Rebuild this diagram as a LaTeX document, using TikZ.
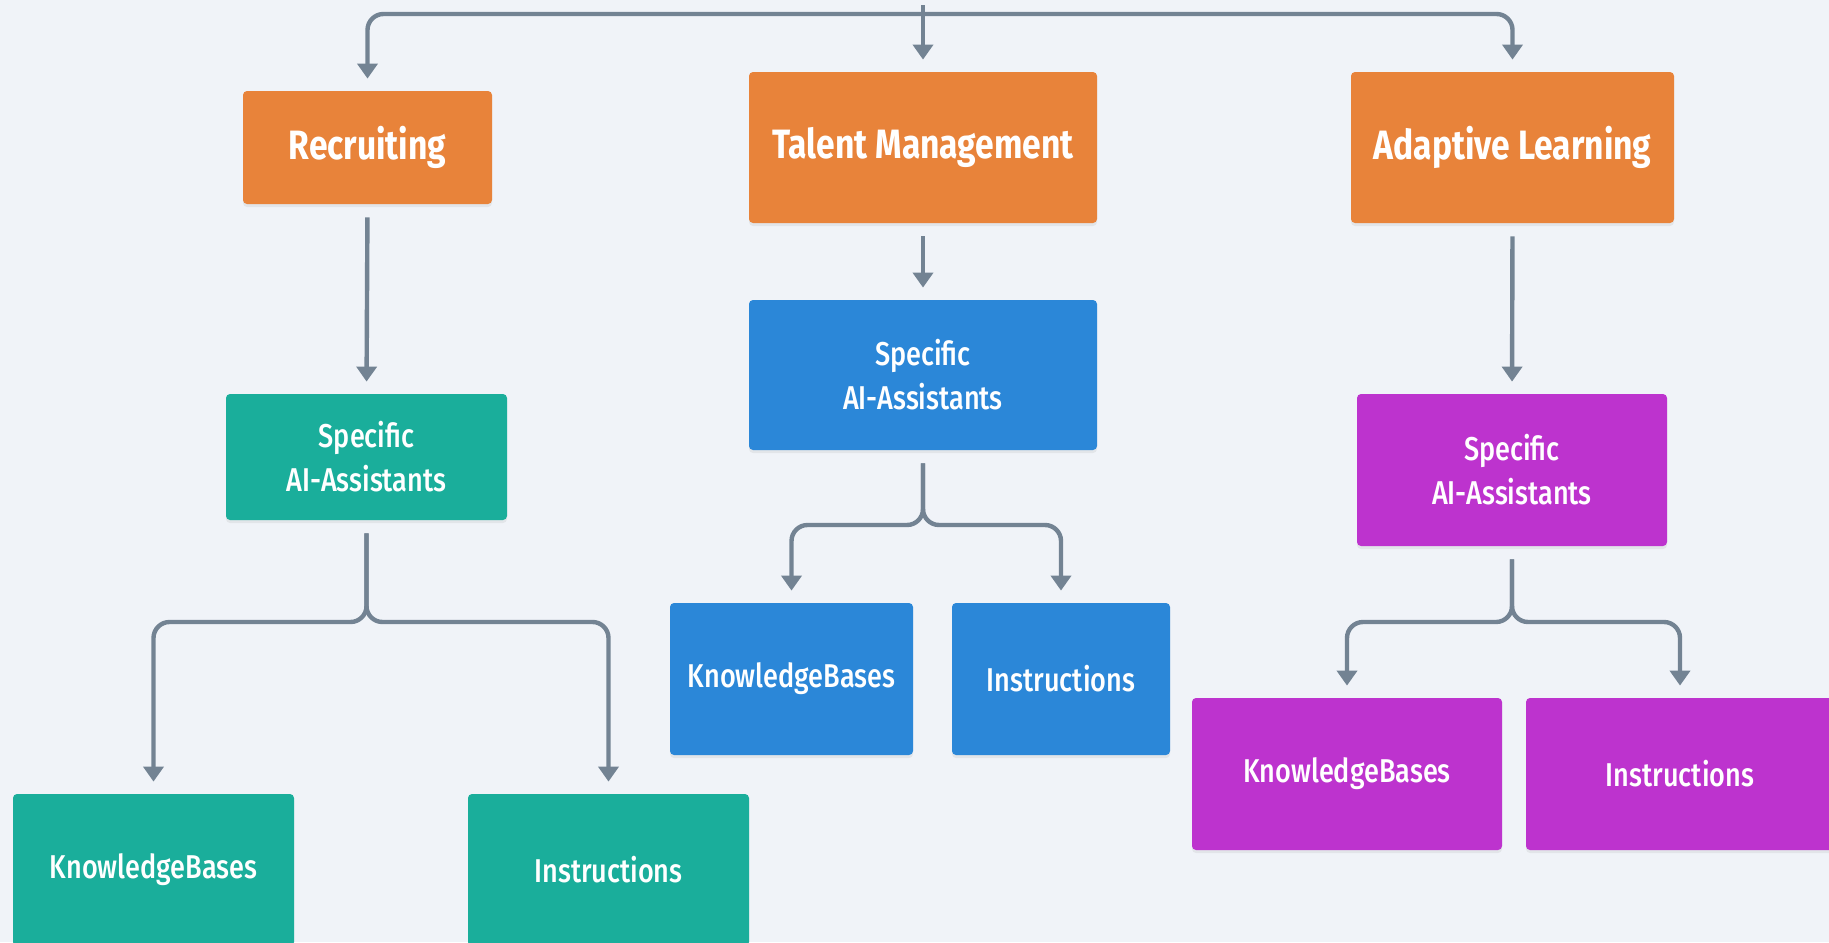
\documentclass[tikz,border=0pt]{standalone}
\usepackage{fontspec}
\setmainfont{Fira Sans}[FakeStretch=0.82,UprightFont=* Medium,BoldFont=* Bold]
\usetikzlibrary{arrows.meta,shadows}

\definecolor{bgcol}{RGB}{240,243,248}
\definecolor{headcol}{RGB}{232,131,58}
\definecolor{tealcol}{RGB}{26,174,155}
\definecolor{bluecol}{RGB}{43,135,216}
\definecolor{magcol}{RGB}{189,51,206}
\definecolor{linkcol}{RGB}{115,131,147}

\tikzset{
  box/.style={rounded corners=2pt, text=white, align=center, inner sep=0pt,
    drop shadow={opacity=0.12, shadow xshift=0pt, shadow yshift=-1.5pt}},
  head/.style={box, fill=headcol, font=\bfseries\fontsize{20.5}{24}\selectfont},
  leaf/.style={box, font=\fontsize{16.5}{22}\selectfont},
  link/.style={draw=linkcol, line width=2.2pt, rounded corners=8pt,
    -{Triangle[width=10pt,length=7.5pt]}, shorten >=6pt},
  down/.style={link, shorten <=6.5pt},
}

\begin{document}
\begin{tikzpicture}[x=0.5pt,y=0.5pt,yscale=-1]
\useasboundingbox (0,0) rectangle (1829,942);
\clip (0,0) rectangle (1829,942);
\fill[bgcol] (0,0) rectangle (1829,942);

%Shape: Rectangle
\draw (367.5,147.5) node[head, minimum width=124.5pt, minimum height=56.5pt] (rec) {Recruiting};
%Shape: Rectangle
\draw (923,147.5) node[head, minimum width=174pt, minimum height=75.5pt] (tal) {Talent Management};
%Shape: Rectangle
\draw (1512.5,147.5) node[head, minimum width=161.5pt, minimum height=75.5pt] (ada) {Adaptive Learning};

%Shape: Rectangle
\draw (366.5,457) node[leaf, fill=tealcol, minimum width=140.5pt, minimum height=63pt] (rspec) {Specific\\AI-Assistants};
%Shape: Rectangle
\draw (923,375) node[leaf, fill=bluecol, minimum width=174pt, minimum height=75pt] (tspec) {Specific\\AI-Assistants};
%Shape: Rectangle
\draw (1512,470) node[leaf, fill=magcol, minimum width=155pt, minimum height=76pt] (aspec) {Specific\\AI-Assistants};

%Shape: Rectangle
\draw (153.5,870) node[leaf, fill=tealcol, minimum width=140.5pt, minimum height=76pt] (rkb) {KnowledgeBases};
%Shape: Rectangle
\draw (608.5,870) node[leaf, fill=tealcol, minimum width=140.5pt, minimum height=76pt] (rins) {Instructions};
%Shape: Rectangle
\draw (791.5,679) node[leaf, fill=bluecol, minimum width=121.5pt, minimum height=76pt] (tkb) {KnowledgeBases};
%Shape: Rectangle
\draw (1061,679) node[leaf, fill=bluecol, minimum width=109pt, minimum height=76pt] (tins) {Instructions};
%Shape: Rectangle
\draw (1347,774) node[leaf, fill=magcol, minimum width=155pt, minimum height=76pt] (akb) {KnowledgeBases};
%Shape: Rectangle
\draw (1680,774) node[leaf, fill=magcol, minimum width=154pt, minimum height=76pt] (ains) {Instructions};

% free ends and bends
\coordinate (top) at (923,5);
\coordinate (bus) at (923,14);
\coordinate (rj) at (366.5,622);
\coordinate (tj) at (923,525);
\coordinate (aj) at (1512,622);

%Straight Lines
\draw[link] (top) -- (tal.north);
\draw[link] (bus) -| (rec.north);
\draw[link] (bus) -| (ada.north);

%Straight Lines
\draw[down] (rec.south) -- (rspec.north);
\draw[down] (tal.south) -- (tspec.north);
\draw[down] (ada.south) -- (aspec.north);

%Curve Lines
\draw[down] (rspec.south) -- (rj) -| (rkb.north);
\draw[down] (rspec.south) -- (rj) -| (rins.north);
%Curve Lines
\draw[down] (tspec.south) -- (tj) -| (tkb.north);
\draw[down] (tspec.south) -- (tj) -| (tins.north);
%Curve Lines
\draw[down] (aspec.south) -- (aj) -| (akb.north);
\draw[down] (aspec.south) -- (aj) -| (ains.north);

\end{tikzpicture}
\end{document}
